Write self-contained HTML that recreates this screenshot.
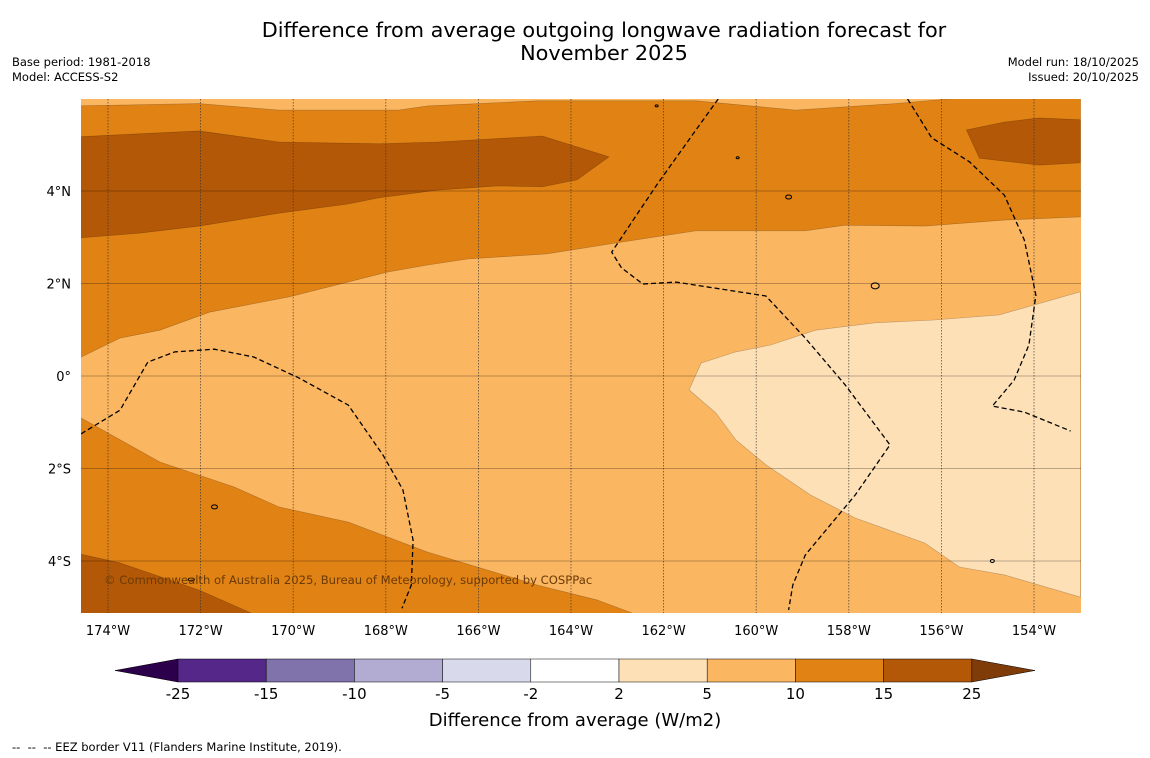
<!DOCTYPE html>
<html><head><meta charset="utf-8"><style>
body{margin:0;background:#fff;font-family:"DejaVu Sans","Liberation Sans",sans-serif;}
#wrap{position:relative;width:1150px;height:758px;overflow:hidden;background:#fff;}
.t{position:absolute;color:#000;}
</style></head><body>
<div id="wrap">
<div class="t" style="left:0;width:1208px;top:19px;text-align:center;font-size:20.8px;line-height:23px;">Difference from average outgoing longwave radiation forecast for<br>November 2025</div>
<div class="t" style="left:12px;top:55px;font-size:11.5px;line-height:15px;">Base period: 1981-2018<br>Model: ACCESS-S2</div>
<div class="t" style="right:11px;top:55px;font-size:11.5px;line-height:15px;text-align:right;">Model run: 18/10/2025<br>Issued: 20/10/2025</div>
<div class="t" style="left:12px;top:740px;font-size:11.5px;">--&nbsp; --&nbsp; -- EEZ border V11 (Flanders Marine Institute, 2019).</div>
<svg id="svg" width="1150" height="758" style="position:absolute;left:0;top:0"></svg>
</div>
<script>
const lonTicks=[-174,-172,-170,-168,-166,-164,-162,-160,-158,-156,-154];
const latTicks=[4,2,0,-2,-4];
const cbBounds=[-25,-15,-10,-5,-2,2,5,10,15,25];
const cbColors=['#542788','#8073ac','#b2abd2','#d8daeb','#ffffff','#fee0b6','#fbb661','#e08214','#b35806'];
// contour polygons [lon,lat]
const band10=[[-174.7,5.84],[-172.03,5.89],[-170.31,5.75],[-167.73,5.75],[-167.09,5.84],[-164.73,5.95],[-161.3,5.95],[-159.15,5.75],[-157.0,5.89],[-155.72,6.0],[-153.0,6.0],[-153.0,3.44],[-154.64,3.37],[-156.36,3.24],[-158.08,3.26],[-158.94,3.14],[-161.3,3.14],[-163.01,2.88],[-164.52,2.64],[-166.23,2.53],[-167.09,2.40],[-167.95,2.25],[-170.09,1.71],[-171.81,1.38],[-172.88,0.99],[-173.74,0.82],[-174.7,0.35]];
const band10b=[[-174.7,-0.84],[-172.88,-1.86],[-171.27,-2.40],[-170.31,-2.83],[-168.81,-3.16],[-167.09,-3.81],[-164.73,-4.52],[-163.44,-4.84],[-162.48,-5.2],[-174.7,-5.2]];
const band15a=[[-174.7,5.17],[-172.03,5.30],[-170.31,5.06],[-168.16,5.02],[-166.88,5.06],[-164.62,5.19],[-163.18,4.74],[-163.87,4.24],[-164.62,4.09],[-165.59,4.11],[-166.88,4.02],[-168.16,3.85],[-168.81,3.72],[-170.31,3.52],[-172.03,3.24],[-173.31,3.09],[-174.7,2.98]];
const band15b=[[-155.46,5.32],[-154.64,5.49],[-153.89,5.58],[-153.0,5.54],[-153.0,4.61],[-153.89,4.56],[-155.18,4.71]];
const band15c=[[-174.7,-3.83],[-173.74,-4.04],[-172.03,-4.63],[-170.74,-5.2],[-174.7,-5.2]];
const band2=[[-153.0,1.82],[-154.75,1.32],[-156.15,1.21],[-157.43,1.15],[-158.72,0.99],[-159.69,0.67],[-160.44,0.52],[-161.19,0.28],[-161.45,-0.30],[-160.87,-0.80],[-160.44,-1.38],[-159.79,-1.92],[-158.83,-2.57],[-157.86,-3.07],[-156.36,-3.61],[-155.61,-4.13],[-154.64,-4.30],[-153.0,-4.78]];
const eez1=[[-174.58,-1.25],[-173.74,-0.74],[-173.14,0.30],[-172.56,0.52],[-171.70,0.58],[-170.85,0.41],[-169.88,-0.04],[-168.81,-0.63],[-168.06,-1.71],[-167.63,-2.46],[-167.41,-3.55],[-167.45,-4.52],[-167.65,-5.02]];
const eez2=[[-160.82,5.99],[-161.30,5.32],[-162.15,4.13],[-163.12,2.68],[-162.91,2.34],[-162.45,1.99],[-161.73,2.03],[-159.79,1.73],[-158.94,0.82],[-158.08,-0.19],[-157.11,-1.49],[-157.86,-2.57],[-158.40,-3.22],[-158.94,-3.87],[-159.21,-4.52],[-159.30,-5.06]];
const eez3=[[-156.73,5.99],[-156.21,5.15],[-155.39,4.63],[-154.64,3.91],[-154.21,2.94],[-153.96,1.75],[-154.11,0.67],[-154.43,-0.09],[-154.90,-0.65],[-154.21,-0.78],[-153.21,-1.19]];
const X=lon=>108+(lon+174)*46.3, Y=lat=>376-lat*46.25;
const NS='http://www.w3.org/2000/svg', svg=document.getElementById('svg');
function mk(tag,attrs,parent){const e=document.createElementNS(NS,tag);for(const k in attrs)e.setAttribute(k,attrs[k]);(parent||svg).appendChild(e);return e;}
const defs=mk('defs',{});
const cp=mk('clipPath',{id:'clip'},defs);mk('rect',{x:81,y:99,width:1000,height:514},cp);
const g=mk('g',{'clip-path':'url(#clip)'});


const bg=mk('rect',{x:81,y:99,width:1000,height:514,fill:'#fbb661'},g);


const pstr=a=>a.map((p,i)=>(i?'L':'M')+X(p[0]).toFixed(1)+','+Y(p[1]).toFixed(1)).join('');
[[band10,'#e08214','contour-10-15-north'],[band10b,'#e08214','contour-10-15-south'],[band15a,'#b35806','contour-15-25-northwest'],[band15b,'#b35806','contour-15-25-northeast'],[band15c,'#b35806','contour-15-25-southwest'],[band2,'#fee0b6','contour-2-5-east']].forEach(([a,c,n])=>{
 const p=mk('path',{d:pstr(a)+'Z',fill:c,stroke:'rgba(0,0,0,0.25)','stroke-width':0.6},g);
 
 
});
lonTicks.forEach(l=>{const ln=mk('line',{x1:X(l),x2:X(l),y1:99,y2:613,stroke:'#333','stroke-width':0.8,'stroke-dasharray':'1.5,1.5',opacity:0.8},g);
 
 
 const t=mk('text',{x:X(l),y:635,'text-anchor':'middle','font-size':13});t.textContent=Math.abs(l)+'°W';
 
 });
latTicks.forEach(l=>{const ln=mk('line',{x1:81,x2:1081,y1:Y(l),y2:Y(l),stroke:'#000','stroke-width':0.8,opacity:0.35},g);
 
 
 const t=mk('text',{x:71,y:Y(l)+5,'text-anchor':'end','font-size':13});t.textContent=l===0?'0°':Math.abs(l)+'°'+(l>0?'N':'S');
 
 });
[eez1,eez2,eez3].forEach(a=>{const p=mk('path',{d:pstr(a),fill:'none',stroke:'#000','stroke-width':1.3,'stroke-dasharray':'5,3'},g);
 
 });
[[-162.15,5.84,1.5,1],[-160.4,4.72,1.5,1],[-159.3,3.87,3,2],[-157.43,1.95,4,3],[-171.70,-2.83,3,2],[-172.2,-4.4,3,1.5],[-154.9,-4.0,2,1.5]].forEach(i=>{
 const e=mk('ellipse',{cx:X(i[0]),cy:Y(i[1]),rx:i[2],ry:i[3],fill:'none',stroke:'#000','stroke-width':1},g);
 
 });
const cr=mk('text',{x:104,y:584,'font-size':11.6,fill:'#6b3a06'},g);cr.textContent='© Commonwealth of Australia 2025, Bureau of Meteorology, supported by COSPPac';


const cbX0=178,cbW=88.2,cbY=659,cbH=23;
const lt=mk('polygon',{points:`115,${cbY+cbH/2} ${cbX0},${cbY} ${cbX0},${cbY+cbH}`,fill:'#2d004b',stroke:'#000','stroke-width':0.5});


const rt=mk('polygon',{points:`1035,${cbY+cbH/2} ${cbX0+9*cbW},${cbY} ${cbX0+9*cbW},${cbY+cbH}`,fill:'#7f3b08',stroke:'#000','stroke-width':0.5});


cbColors.forEach((c,i)=>{const r=mk('rect',{x:cbX0+i*cbW,y:cbY,width:cbW,height:cbH,fill:c,stroke:'#000','stroke-width':0.5});
 
 });
cbBounds.forEach((b,i)=>{const t=mk('text',{x:cbX0+i*cbW,y:699,'text-anchor':'middle','font-size':15});t.textContent=b;
 
 });
const cl=mk('text',{x:575,y:726,'text-anchor':'middle','font-size':18});cl.textContent='Difference from average (W/m2)';


</script>
</body></html>
